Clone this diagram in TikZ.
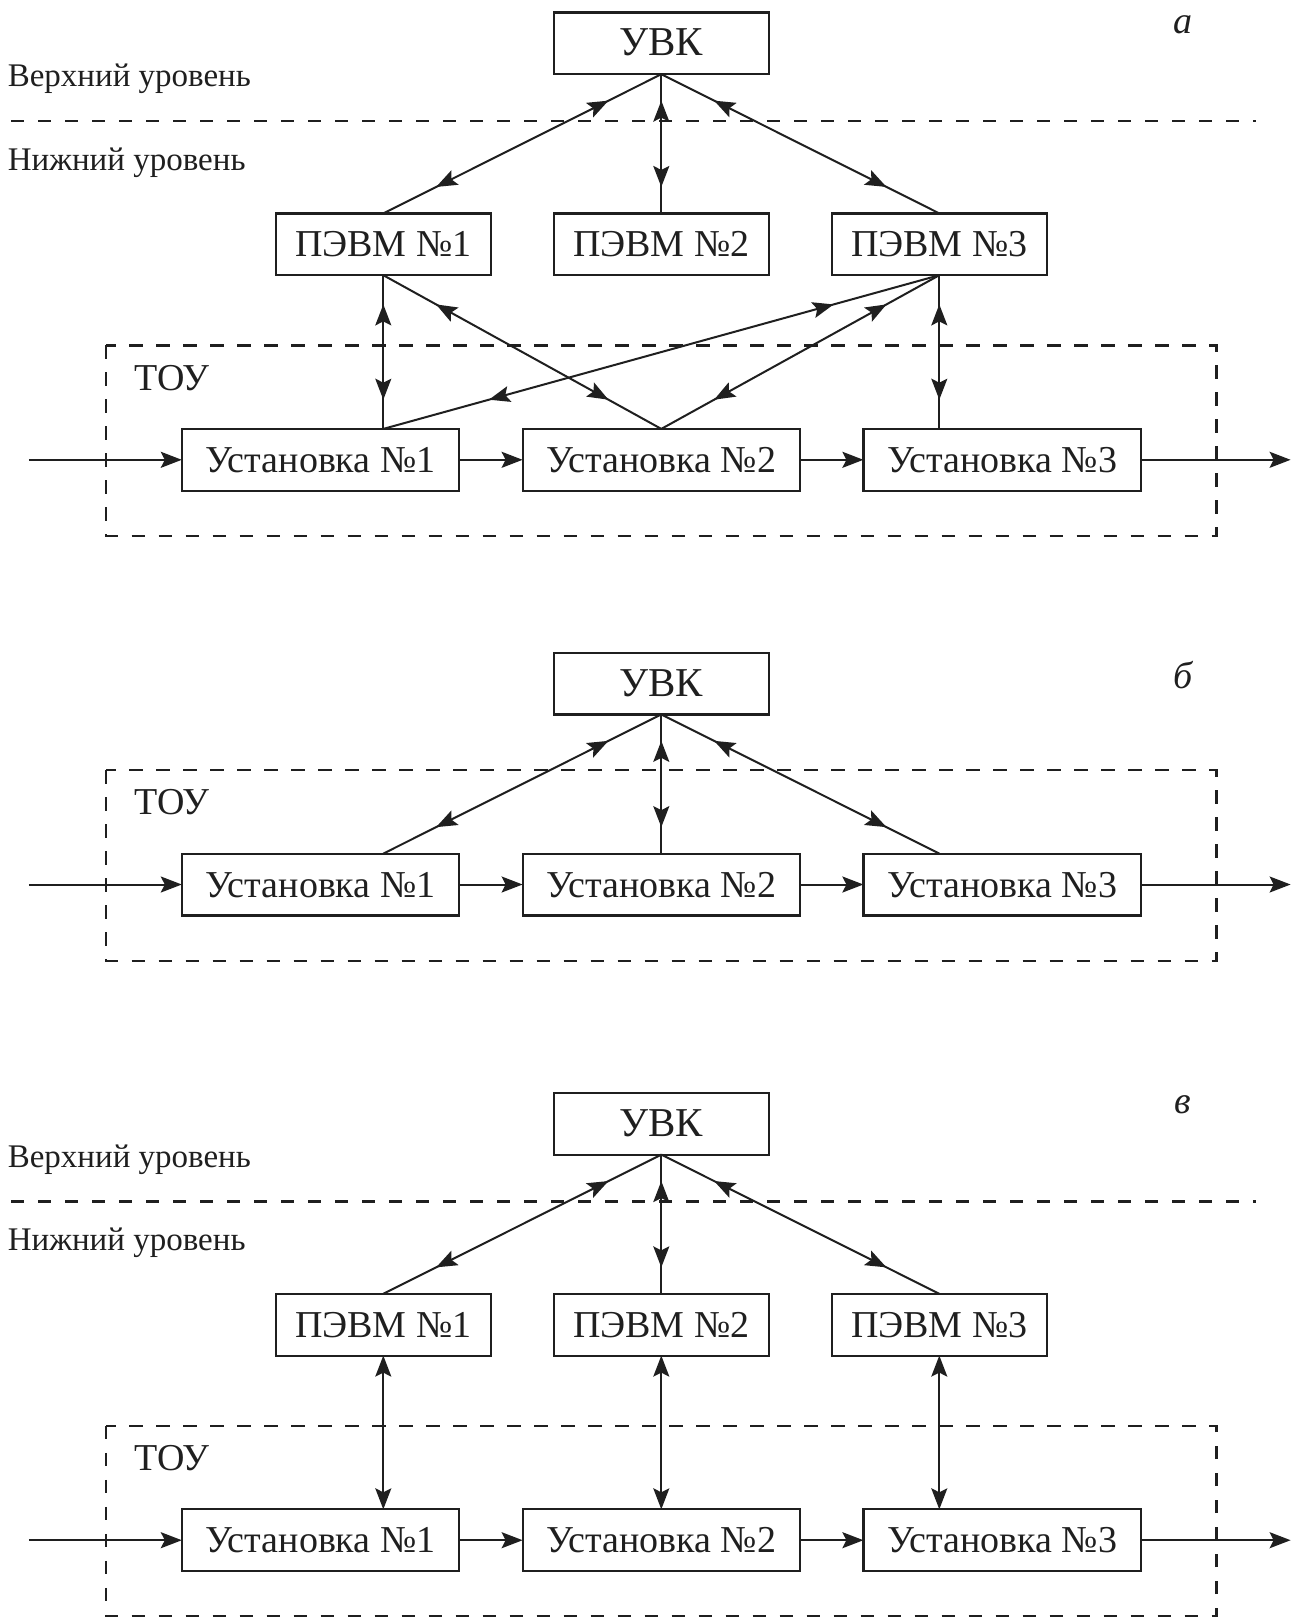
\documentclass[tikz,border=0pt]{standalone}
\usepackage{fontspec}
\setmainfont{Liberation Serif}
\usetikzlibrary{positioning,arrows.meta,decorations.markings}

\tikzset{
  strelka/.tip={Stealth[length=10.5pt,width=8pt,inset=2pt]},
  blok/.style={draw, line width=1.1pt, outer sep=0pt, inner sep=0pt,
    minimum width=107.7pt, minimum height=30.9pt,
    text height=12.6pt, text depth=0pt,
    font=\fontsize{19}{22}\selectfont},
  ustblok/.style={blok, minimum width=138.7pt},
  uroven/.style={anchor=base west, inner sep=0pt,
    font=\fontsize{16.5}{19}\selectfont},
  bukva/.style={anchor=base, inner sep=0pt,
    font=\fontsize{19}{22}\selectfont\itshape},
  granica/.style={line width=1.1pt, dash pattern=on 6.7pt off 6.8pt},
  potok/.style={line width=1pt, -strelka},
  svyaz/.style={line width=1pt, strelka-strelka},
  dvastr/.style={line width=1pt, postaction={decorate},
    decoration={markings,
      mark=at position 0.19 with {\arrowreversed{strelka}},
      mark=at position 0.81 with {\arrow{strelka}}}}
}

\begin{document}
\begin{tikzpicture}[color=black!88]
\useasboundingbox (0,0) rectangle (651.5pt,-808.5pt);

% ряды установок с контуром ТОУ (а, б, в)
\foreach \p/\y in {A/-229.9, B/-442.25, V/-770.1} {
  \draw[granica] (53.1pt,\y pt+57.2pt) rectangle (608.2pt,\y pt-38.1pt);
  \node[uroven, font=\fontsize{19}{22}\selectfont] (tou\p) at (67pt,\y pt+34.9pt) {ТОУ};
  \node[ustblok] (ust\p2) at (330.65pt,\y pt) {Установка №2};
  \node[ustblok, left=31.7pt of ust\p2] (ust\p1) {Установка №1};
  \node[ustblok, right=31.7pt of ust\p2] (ust\p3) {Установка №3};
  \coordinate (vhod\p) at (14.4pt,\y pt);
  \coordinate (vyhod\p) at (645.3pt,\y pt);
  \draw[potok] (vhod\p) -- (ust\p1.west);
  \draw[potok] (ust\p1.east) -- (ust\p2.west);
  \draw[potok] (ust\p2.east) -- (ust\p3.west);
  \draw[potok] (ust\p3.east) -- (vyhod\p);
}

% а
\node[blok, font=\fontsize{20.5}{24}\selectfont] (uvkA) at (330.65pt,-21.65pt) {УВК};
\node[blok, below=69.6pt of uvkA] (pevmA2) {ПЭВМ №2};
\node[blok, left=31.3pt of pevmA2] (pevmA1) {ПЭВМ №1};
\node[blok, right=31.3pt of pevmA2] (pevmA3) {ПЭВМ №3};
\node[bukva] (bukvaA) at (591.5pt,-16.5pt) {а};
\node[uroven] (verhA) at (3.7pt,-43.3pt) {Верхний уровень};
\node[uroven] (nizA) at (3.7pt,-85pt) {Нижний уровень};
\coordinate (linA1) at (5.5pt,-60.5pt);
\coordinate (linA2) at (628pt,-60.5pt);
\draw[granica] (linA1) -- (linA2);

\draw[dvastr] (uvkA.south) -- (pevmA1.north);
\draw[dvastr] (uvkA.south) -- (pevmA2.north);
\draw[dvastr] (uvkA.south) -- (pevmA3.north);
\draw[dvastr] (pevmA1.south) -- (pevmA1.south |- ustA1.north);
\draw[dvastr] (pevmA1.south) -- (ustA2.north);
\draw[dvastr] (pevmA1.south |- ustA1.north) -- (pevmA3.south);
\draw[dvastr] (ustA2.north) -- (pevmA3.south);
\draw[dvastr] (pevmA3.south) -- (pevmA3.south |- ustA3.north);

% б
\node[blok, font=\fontsize{20.5}{24}\selectfont] (uvkB) at (330.65pt,-341.75pt) {УВК};
\node[bukva] (bukvaB) at (591.5pt,-344pt) {б};
\draw[dvastr] (uvkB.south) -- (pevmA1 |- ustB1.north);
\draw[dvastr] (uvkB.south) -- (ustB2.north);
\draw[dvastr] (uvkB.south) -- (pevmA3 |- ustB3.north);

% в
\node[blok, font=\fontsize{20.5}{24}\selectfont] (uvkV) at (330.65pt,-561.85pt) {УВК};
\node[blok, below=69.6pt of uvkV] (pevmV2) {ПЭВМ №2};
\node[blok, left=31.3pt of pevmV2] (pevmV1) {ПЭВМ №1};
\node[blok, right=31.3pt of pevmV2] (pevmV3) {ПЭВМ №3};
\node[bukva] (bukvaV) at (591.5pt,-556.5pt) {в};
\node[uroven] (verhV) at (3.7pt,-583.5pt) {Верхний уровень};
\node[uroven] (nizV) at (3.7pt,-625.2pt) {Нижний уровень};
\coordinate (linV1) at (5.5pt,-600.7pt);
\coordinate (linV2) at (628pt,-600.7pt);
\draw[granica] (linV1) -- (linV2);

\draw[dvastr] (uvkV.south) -- (pevmV1.north);
\draw[dvastr] (uvkV.south) -- (pevmV2.north);
\draw[dvastr] (uvkV.south) -- (pevmV3.north);
\draw[svyaz] (pevmV1.south) -- (pevmV1.south |- ustV1.north);
\draw[svyaz] (pevmV2.south) -- (ustV2.north);
\draw[svyaz] (pevmV3.south) -- (pevmV3.south |- ustV3.north);
\end{tikzpicture}
\end{document}
